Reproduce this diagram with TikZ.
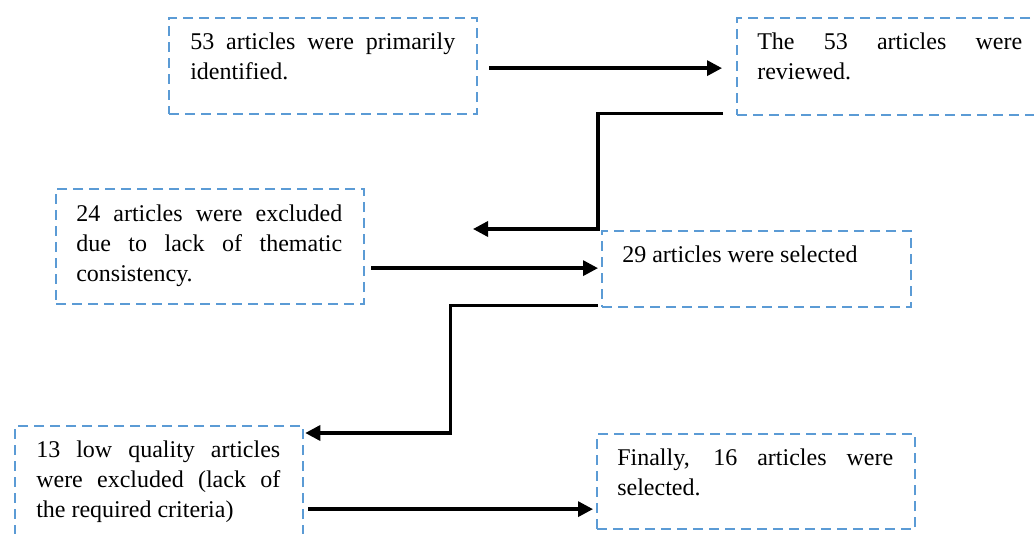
\documentclass[tikz,border=0pt]{standalone}
\usepackage{fontspec}
\setmainfont{Liberation Serif}
\usetikzlibrary{arrows.meta,calc}
\definecolor{boxblue}{HTML}{5B9BD5}
\newcommand{\boxfont}{\fontsize{18pt}{22.5pt}\selectfont\hyphenpenalty=10000\relax\tolerance=10000\relax}
\tikzset{
  box/.style={draw=boxblue, line width=1.7pt, dash pattern=on 7.5pt off 4.5pt, anchor=north west, inner sep=0pt, minimum width=#1},
  txt/.style={anchor=base west, inner sep=0pt, align=justify, text width=#1, font=\boxfont},
  arr/.style={draw=black, line width=2.5pt, line join=miter, -{Triangle[length=11.25pt,width=11.25pt]}}
}
\begin{document}
\begin{tikzpicture}[x=0.75pt,y=-0.75pt]
\useasboundingbox (0,0) rectangle (1034,534);
\clip (0,0) rectangle (1034,534);
% boxes
\node[box=231pt, minimum height=72pt] (b1) at (168,17) {};
\node[box=235.5pt, minimum height=72.75pt] (b2) at (736,17) {};
\node[box=231pt, minimum height=86.25pt] (b3) at (55,188) {};
\node[box=231.75pt, minimum height=57pt] (b4) at (601,230) {};
\node[box=216pt, minimum height=93.75pt] (b5) at (14,425) {};
\node[box=238.5pt, minimum height=71.25pt] (b6) at (596,433) {};
% texts
\node[txt=198.75pt] (t1) at (190,50) {53 articles were primarily\linebreak identified.};
\node[txt=198.75pt] (t2) at (757,50) {The 53 articles were\linebreak reviewed.};
\node[txt=199.5pt] (t3) at (76,222) {24 articles were excluded\linebreak due to lack of thematic\linebreak consistency.};
\node[txt=210pt] (t4) at (622,263) {29 articles were selected};
\node[txt=183pt] (t5) at (36,457) {13 low quality articles\linebreak were excluded (lack of\linebreak the required criteria)};
\node[txt=207pt] (t6) at (617,465) {Finally, 16 articles were\linebreak selected.};
% connectors
\coordinate (c2end) at ($(b4.north west)+(-128,-1)$);
\draw[arr] ($(b1.east)+(11,2)$) -- ($(b2.west)+(-14,1.5)$);
\draw[arr] ($(b2.south west)+(-13,-3)$) -| ($(b4.north west)+(-3,-1)$) -- (c2end);
\draw[arr] ($(b3.east)+(6,21.5)$) -- ($(b4.west)+(-3,-1)$);
\draw[arr] ($(b4.south west)+(-3,-3)$) -| ($(b5.north east)+(146,8)$) -- ($(b5.north east)+(1,8)$);
\draw[arr] ($(b5.east)+(4,20.5)$) -- ($(b6.west)+(-3,27.5)$);
\end{tikzpicture}
\end{document}
